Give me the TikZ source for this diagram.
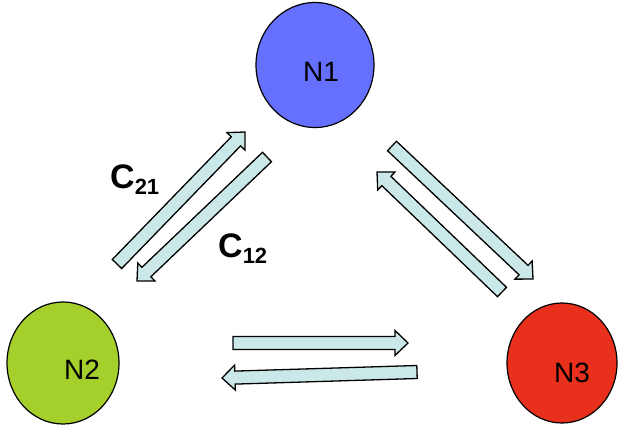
\documentclass[tikz,border=0pt]{standalone}
\usepackage{fontspec}
\setmainfont{Liberation Sans}
\usetikzlibrary{shapes.geometric,calc}
\definecolor{nblue}{RGB}{102,112,255}
\definecolor{ngreen}{RGB}{165,207,42}
\definecolor{nred}{RGB}{232,48,28}
\definecolor{afill}{RGB}{203,232,232}
\tikzset{
  netnode/.style={ellipse,draw=black,line width=1.2pt,inner sep=0pt},
  nodetext/.style={font=\fontsize{28}{28}\selectfont},
  barrow/.style={draw=black,fill=afill,line width=1.3pt,line join=miter},
  clabel/.style={font=\bfseries}
}
\newcommand{\blockarr}[2]{%
  \coordinate (#1#2h) at ($(#2)!13pt!(#1)$);
  \draw[barrow] ($(#1)!6.5pt!90:(#2)$) -- ($(#1#2h)!6.5pt!90:(#2)$) -- ($(#1#2h)!12.5pt!90:(#2)$)
    -- (#2) -- ($(#1#2h)!12.5pt!-90:(#2)$) -- ($(#1#2h)!6.5pt!-90:(#2)$) -- ($(#1)!6.5pt!-90:(#2)$) -- cycle;}
\begin{document}
\begin{tikzpicture}[x=1pt,y=-1pt]
\useasboundingbox (0,0) rectangle (620,427);
\node[netnode,fill=nblue,minimum width=118pt,minimum height=125pt] (N1) at (315,65) {};
\node[netnode,fill=ngreen,minimum width=112pt,minimum height=122pt] (N2) at (63,363) {};
\node[netnode,fill=nred,minimum width=110pt,minimum height=120pt] (N3) at (562,363) {};
\node[nodetext] (t1) at (321,72) {N1};
\node[nodetext] (t2) at (82,370) {N2};
\node[nodetext] (t3) at (572,373) {N3};
\coordinate (a) at (117,264);
\coordinate (b) at (245,132);
\coordinate (c) at (267,157);
\coordinate (d) at (137,281);
\coordinate (e) at (392,146);
\coordinate (f) at (533,279);
\coordinate (g) at (502,292);
\coordinate (h) at (377,172);
\coordinate (i) at (233,343);
\coordinate (j) at (408,343);
\coordinate (k) at (417,372);
\coordinate (l) at (222,378);
\blockarr{a}{b}
\blockarr{c}{d}
\blockarr{e}{f}
\blockarr{g}{h}
\blockarr{i}{j}
\blockarr{k}{l}
\node[clabel,anchor=base west,inner sep=0pt] (c21) at (110,189) {{\fontsize{34}{34}\selectfont C}{\fontsize{22}{22}\selectfont\raisebox{-6pt}{21}}};
\node[clabel,anchor=base west,inner sep=0pt] (c12) at (218,258) {{\fontsize{34}{34}\selectfont C}{\fontsize{22}{22}\selectfont\raisebox{-6pt}{12}}};
\end{tikzpicture}
\end{document}
